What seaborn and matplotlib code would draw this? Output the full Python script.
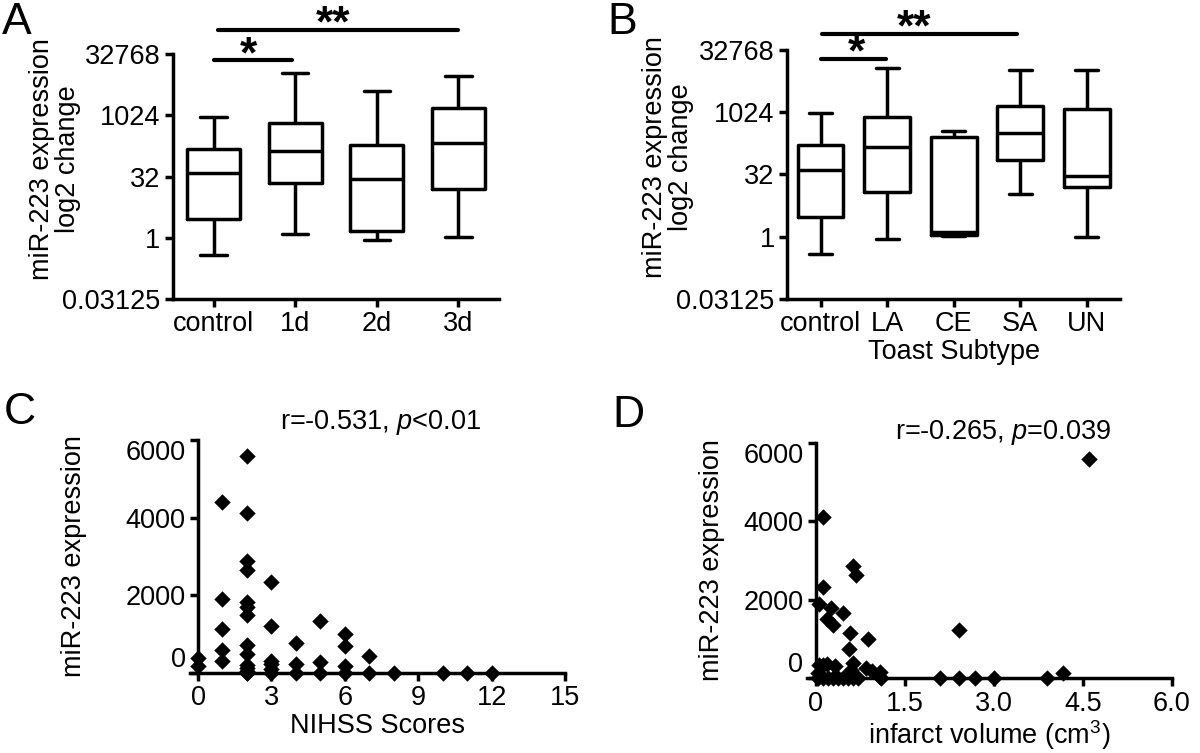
import numpy as np
import pandas as pd
import seaborn as sns
import matplotlib.pyplot as plt
from matplotlib.ticker import NullLocator

# box values (fold change, log2 axis): low, q1, median, q3, high
groups_a = ["control", "1d", "2d", "3d"]
box_a = [
    [0.38, 2.93, 38.6, 153, 929],
    [1.23, 22.8, 139, 653, 11430],
    [0.90, 1.48, 28.0, 191, 4120],
    [1.02, 16.0, 211, 1580, 9810],
]
groups_b = ["control", "LA", "CE", "SA", "UN"]
box_b = [
    [0.38, 3.0, 40.2, 160, 960],
    [0.90, 11.9, 143, 760, 12000],
    [1.01, 1.11, 1.27, 254, 347],
    [10.8, 70.5, 317, 1450, 10580],
    [1.00, 16.2, 28.4, 1226, 10580],
]
log2_ticks = [0.03125, 1, 32, 1024, 32768]
log2_labels = ["0.03125", "1", "32", "1024", "32768"]

# scatter C: NIHSS score vs miR-223
nihss = [0, 0,
         1, 1, 1, 1, 1,
         2, 2, 2, 2, 2, 2, 2, 2, 2, 2, 2, 2, 2, 2,
         3, 3, 3, 3, 3, 3,
         4, 4, 4,
         5, 5, 5,
         6, 6, 6, 6,
         7, 7,
         8, 10, 11, 12]
mir_c = [380, 170,
         4390, 1900, 1120, 600, 320,
         5590, 4110, 2880, 2650, 1830, 1700, 1500, 720, 500, 200, 120, 60, 0, 0,
         2330, 1220, 320, 230, 90, 0,
         780, 220, 0,
         1350, 290, 0,
         1000, 690, 170, 0,
         440, 0,
         0, 0, 0, 0]

# scatter D: infarct volume vs miR-223
volume = [0.12, 4.60, 0.12, 0.05, 0.25, 0.19, 0.28, 0.46, 0.63, 0.67, 0.58, 0.55, 0.87, 0.62,
          0.85, 0.95, 1.08, 1.08, 2.42, 4.16,
          0.06, 0.12, 0.19, 0.32, 0.04, 0.60, 0.60,
          0.04, 0.12, 0.21, 0.29, 0.38, 0.46, 0.54, 0.63, 0.71, 1.10, 2.09, 2.41, 2.69, 3.00, 3.89]
mir_d = [4110, 5600, 2315, 1900, 1790, 1515, 1345, 1660, 2870, 2640, 1150, 740, 990, 390,
         260, 170, 150, 20, 1220, 140,
         330, 330, 350, 310, 120, 210, 80,
         0, 0, 0, 0, 0, 0, 0, 0, 0, 0, 0, 0, 0, 0, 0]

sns.set_theme(style="ticks")
plt.rcParams["font.family"] = ["Liberation Sans", "DejaVu Sans"]
plt.rcParams["mathtext.fontset"] = "custom"
plt.rcParams["mathtext.rm"] = "Liberation Sans"
plt.rcParams["mathtext.it"] = "Liberation Sans:italic"
for key in ["text.color", "axes.labelcolor", "xtick.color", "ytick.color"]:
    plt.rcParams[key] = "black"

LW = 2.5
FS = 19.5

fig = plt.figure(figsize=(12, 7.53), dpi=100)
axA = fig.add_axes([0.144, 0.603, 0.272, 0.325])
axB = fig.add_axes([0.656, 0.603, 0.2775, 0.331])
axC = fig.add_axes([0.1583, 0.1063, 0.3125, 0.3094])
axD = fig.add_axes([0.6725, 0.0996, 0.304, 0.312])


def long_table(groups, boxes):
    rows = []
    for g, vals in zip(groups, boxes):
        for v in vals:
            rows.append((g, v))
    return pd.DataFrame(rows, columns=["group", "value"])


def style(ax):
    sns.despine(ax=ax)
    for s in ["left", "bottom"]:
        ax.spines[s].set_linewidth(LW)
        ax.spines[s].set_color("black")
    ax.tick_params(width=LW, length=6, labelsize=FS, colors="black", pad=3)


for ax, groups, boxes, width in [(axA, groups_a, box_a, 0.65), (axB, groups_b, box_b, 0.69)]:
    sns.boxplot(data=long_table(groups, boxes), x="group", y="value", order=groups,
                log_scale=2, whis=(0, 100), width=width, fill=False, color="black",
                linewidth=LW, showfliers=False, ax=ax)
    ax.set_ylim(2 ** -5, 2 ** 15)
    ax.set_yticks(log2_ticks)
    ax.set_yticklabels(log2_labels)
    ax.yaxis.set_minor_locator(NullLocator())
    ax.set_xlim(-0.5, len(groups) - 0.5)
    ax.set_ylabel("miR-223 expression\nlog2 change", fontsize=FS, linespacing=1.0)
    ax.yaxis.set_label_coords(-0.28, 0.57)
    style(ax)

axA.set_xlabel("")
axB.set_xlabel("Toast Subtype", fontsize=FS, labelpad=1)

# significance bars
star_kw = dict(ha="center", va="center", fontsize=32, fontweight="bold", clip_on=False)
axA.plot([0, 0.96], [2 ** 14.5] * 2, color="black", lw=3, clip_on=False)
axA.text(0.43, 2 ** 14.9, "*", **star_kw)
axA.plot([0.05, 3.0], [2 ** 16.96] * 2, color="black", lw=3, clip_on=False)
axA.text(1.46, 2 ** 17.4, "**", **star_kw)
axB.plot([0, 0.98], [2 ** 14.25] * 2, color="black", lw=3, clip_on=False)
axB.text(0.54, 2 ** 14.7, "*", **star_kw)
axB.plot([0.02, 2.95], [2 ** 16.23] * 2, color="black", lw=3, clip_on=False)
axB.text(1.41, 2 ** 16.7, "**", **star_kw)

# scatter panels
sns.scatterplot(x=nihss, y=mir_c, marker="D", s=70, color="black", edgecolor="black",
                linewidth=0, ax=axC)
axC.set_xlim(-0.33, 15)
axC.set_xticks([0, 3, 6, 9, 12, 15])
axC.set_xlabel("NIHSS Scores", fontsize=FS, labelpad=1)

sns.scatterplot(x=volume, y=mir_d, marker="D", s=70, color="black", edgecolor="black",
                linewidth=0, ax=axD)
axD.set_xlim(-0.15, 6)
axD.set_xticks([0, 1.5, 3.0, 4.5, 6.0])
axD.set_xticklabels(["0", "1.5", "3.0", "4.5", "6.0"])
axD.set_xlabel("infarct volume (cm$^3$)", fontsize=FS, labelpad=1)

for ax, lx in [(axC, -0.275), (axD, -0.225)]:
    ax.set_ylim(0, 6000)
    ax.set_yticks([0, 2000, 4000, 6000])
    ax.spines["left"].set_position(("data", 0))
    ax.set_ylabel("miR-223 expression", fontsize=FS)
    ax.yaxis.set_label_coords(lx, 0.5)
    style(ax)
    for coll in ax.collections:
        coll.set_clip_on(False)
    labels = ax.get_yticklabels()
    labels[0].set_va("bottom")
    labels[-1].set_va("top")

fig.text(280 / 1200, 1 - 423 / 753, r"r=-0.531, $\mathit{p}$<0.01", fontsize=FS, va="center")
fig.text(895 / 1200, 1 - 432 / 753, r"r=-0.265, $\mathit{p}$=0.039", fontsize=FS, va="center")

for letter, x, y in [("A", 0.002, 0.998), ("B", 0.506, 0.998), ("C", 0.003, 0.48), ("D", 0.51, 0.476)]:
    fig.text(x, y, letter, fontsize=32, va="top", ha="left")

fig.savefig("out.png", dpi=100)
